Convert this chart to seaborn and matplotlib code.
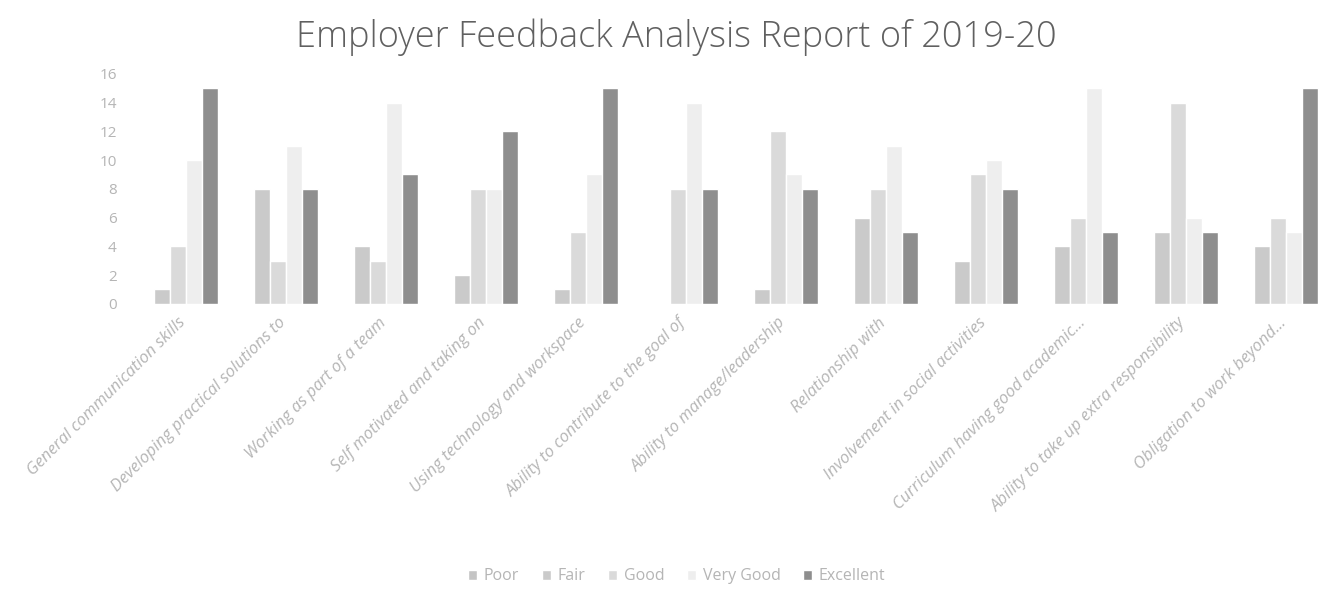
import matplotlib
matplotlib.use("Agg")
import matplotlib.pyplot as plt
import seaborn as sns
import pandas as pd

categories = [
    "General communication skills",
    "Developing practical solutions to",
    "Working as part of a team",
    "Self motivated and taking on",
    "Using technology and workspace",
    "Ability to contribute to the goal of",
    "Ability to manage/leadership",
    "Relationship with",
    "Involvement in social activities",
    "Curriculum having good academic...",
    "Ability to take up extra responsibility",
    "Obligation to work beyond...",
]
series = ["Poor", "Fair", "Good", "Very Good", "Excellent"]
poor = [0, 0, 0, 0, 0, 0, 0, 0, 0, 0, 0, 0]
fair = [1, 8, 4, 2, 1, 0, 1, 6, 3, 4, 5, 4]
good = [4, 3, 3, 8, 5, 8, 12, 8, 9, 6, 14, 6]
very_good = [10, 11, 14, 8, 9, 14, 9, 11, 10, 15, 6, 5]
excellent = [15, 8, 9, 12, 15, 8, 8, 5, 8, 5, 5, 15]
y_ticks = [0, 2, 4, 6, 8, 10, 12, 14, 16]

rows = []
for name, vals in zip(series, [poor, fair, good, very_good, excellent]):
    for c, v in zip(categories, vals):
        rows.append({"Category": c, "Rating": name, "Count": v})
df = pd.DataFrame(rows)

sns.set_style("white")
plt.rcParams["font.family"] = ["Open Sans", "DejaVu Sans"]

colors = ["#c4c4c4", "#cacaca", "#dadada", "#eeeeee", "#8e8e8e"]
text_c = "#b5b5b5"

fig = plt.figure(figsize=(13.32, 5.91), dpi=100)
ax = fig.add_axes([0.096, 0.486, 0.901, 0.389])
sns.barplot(data=df, x="Category", y="Count", hue="Rating", hue_order=series,
            palette=colors, width=0.8, ax=ax, legend=True)

ax.set_ylim(0, 16)
ax.set_yticks(y_ticks)
ax.set_yticklabels([str(t) for t in y_ticks], color=text_c, fontsize=11)
ax.set_xlabel("")
ax.set_ylabel("")
ax.set_xlim(-0.5, len(categories) - 0.5)
ax.set_xticks(range(len(categories)))
ax.set_xticklabels(categories, rotation=45, ha="right", rotation_mode="anchor",
                   color=text_c, fontsize=12, fontstyle="italic")
ax.tick_params(axis="both", length=0, pad=8)
for s in ax.spines.values():
    s.set_visible(False)

ax.legend_.remove()
handles, labels = ax.get_legend_handles_labels()
fig.legend(handles, labels, loc="center", bbox_to_anchor=(0.508, 0.025), ncol=5,
           frameon=False, fontsize=11.5, labelcolor=text_c, handlelength=0.6,
           handleheight=0.6, columnspacing=1.4, handletextpad=0.4)

fig.suptitle("Employer Feedback Analysis Report of 2019-20", x=0.508, y=0.968,
             fontsize=26, color="#606060", fontweight="light")

fig.savefig("out.png", dpi=100)
